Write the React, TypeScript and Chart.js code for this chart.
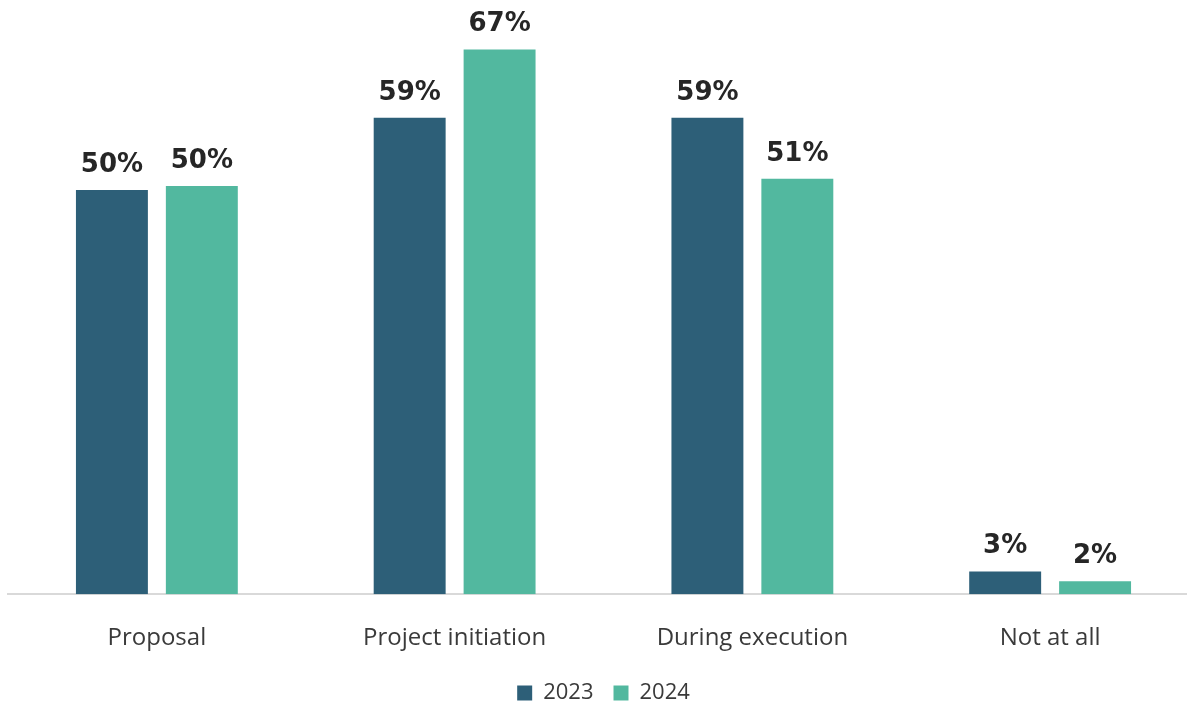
import React, { useEffect, useRef } from "react";
import { Chart, registerables } from "chart.js";

Chart.register(...registerables);

const categories = ["Proposal", "Project initiation", "During execution", "Not at all"];
const values2023 = [49.7, 58.6, 58.6, 2.8];
const values2024 = [50.2, 67, 51.1, 1.6];
const seriesNames = ["2023", "2024"];
const colors = ["#2d5f78", "#52b89f"];

const valueLabels = {
  id: "valueLabels",
  afterDatasetsDraw(chart: any) {
    const ctx = chart.ctx;
    ctx.save();
    ctx.font = "bold 26px 'DejaVu Sans'";
    ctx.fillStyle = "#262626";
    ctx.textAlign = "center";
    ctx.textBaseline = "alphabetic";
    chart.data.datasets.forEach((ds: any, i: number) => {
      const meta = chart.getDatasetMeta(i);
      meta.data.forEach((bar: any, j: number) => {
        ctx.fillText(Math.round(ds.data[j]) + "%", bar.x, bar.y - 18);
      });
    });
    ctx.restore();
  },
};

export default function App() {
  const ref = useRef<HTMLCanvasElement | null>(null);
  useEffect(() => {
    if (!ref.current) return;
    const chart = new Chart(ref.current, {
      type: "bar",
      data: {
        labels: categories,
        datasets: [
          { label: seriesNames[0], data: values2023, backgroundColor: colors[0] },
          { label: seriesNames[1], data: values2024, backgroundColor: colors[1] },
        ],
      },
      options: {
        animation: false,
        responsive: false,
        maintainAspectRatio: false,
        layout: { padding: { left: 8, right: 1, top: 25, bottom: -11 } },
        datasets: { bar: { categoryPercentage: 0.604, barPercentage: 0.8 } },
        scales: {
          x: {
            grid: { display: false },
            border: { display: true, color: "#d9d9d9", width: 2 },
            ticks: {
              color: "#3a3a3a",
              font: { family: "'Open Sans'", size: 24 },
              padding: 22,
            },
            afterFit: (scale: any) => {
              scale.height -= 13;
            },
          },
          y: {
            display: false,
            min: 0,
            max: 70,
          },
        },
        plugins: {
          legend: {
            position: "bottom",
            labels: {
              boxWidth: 15,
              boxHeight: 15,
              color: "#3a3a3a",
              font: { family: "'Open Sans'", size: 22 },
              padding: 20,
            },
          },
          tooltip: { enabled: false },
        },
      },
      plugins: [valueLabels],
    });
    return () => chart.destroy();
  }, []);
  return (
    <div style={{ position: "absolute", left: 0, top: 0, width: 1187, height: 703, overflow: "hidden", background: "#fff" }}>
      <canvas ref={ref} width={1200} height={703} style={{ display: "block", width: 1200, height: 703 }} />
    </div>
  );
}
